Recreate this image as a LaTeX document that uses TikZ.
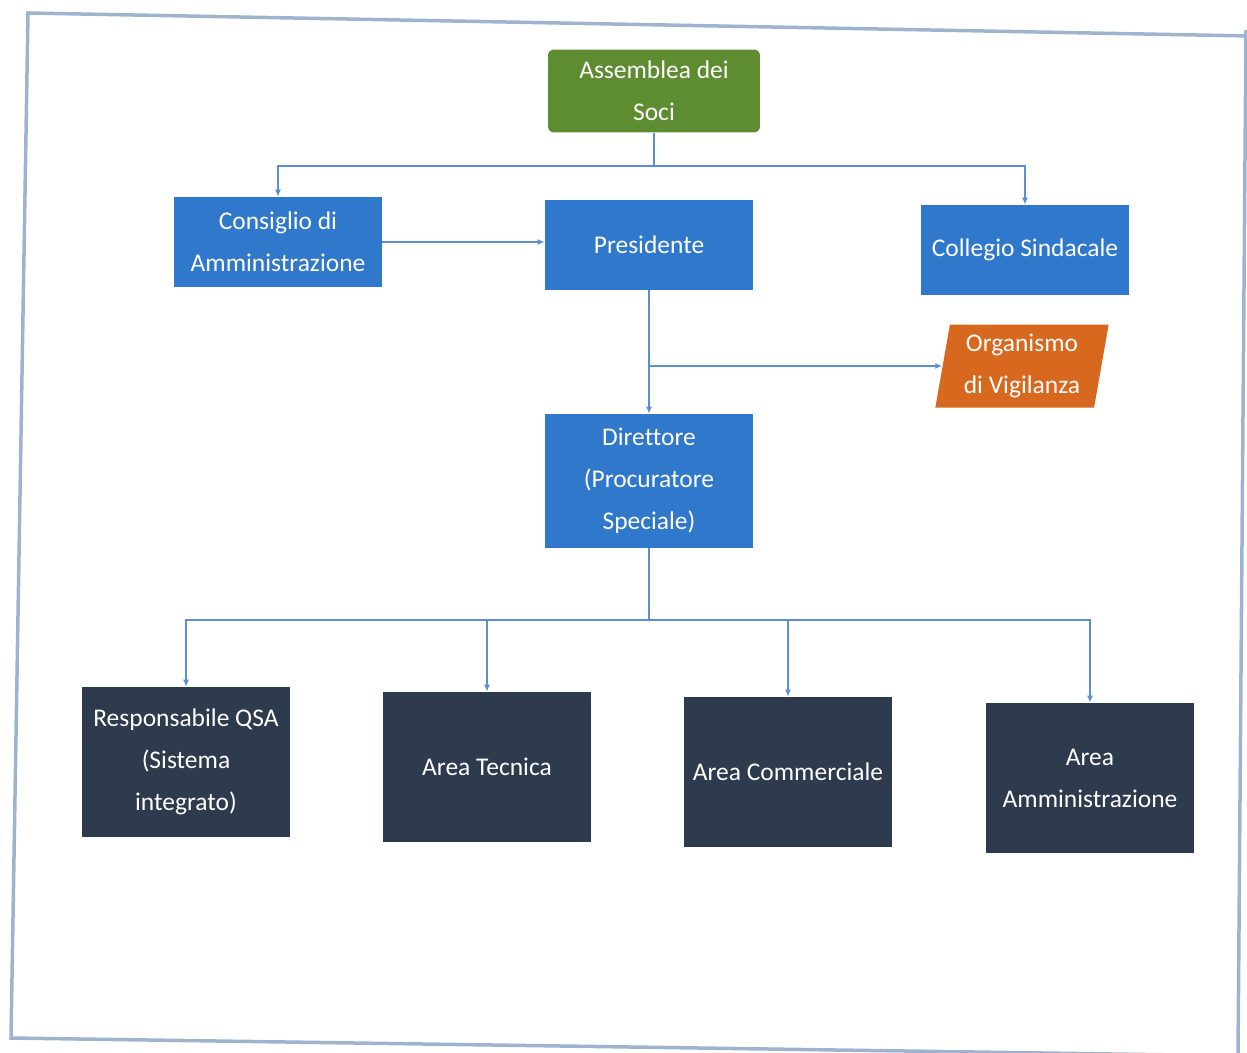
\documentclass[tikz,border=0pt]{standalone}
\usepackage{fontspec}
\setmainfont[Ligatures=NoCommon]{Carlito}
\usetikzlibrary{arrows.meta,shapes.geometric}
\definecolor{boxblue}{HTML}{2F78CC}
\definecolor{boxgreen}{HTML}{5E8C31}
\definecolor{boxorange}{HTML}{D9681F}
\definecolor{boxdark}{HTML}{2E3A4E}
\definecolor{linkblue}{HTML}{5A8FD8}
\definecolor{framegray}{HTML}{9DB3D0}
\tikzset{
  base/.style={draw=none, text=white, align=center, inner sep=2pt,
    font=\fontsize{14.5}{23.8}\selectfont},
  bluebox/.style={base, fill=boxblue, minimum width=4.16cm, minimum height=1.8cm},
  greenbox/.style={base, fill=boxgreen, rounded corners=0.12cm, minimum width=4.24cm, minimum height=1.66cm},
  darkbox/.style={base, fill=boxdark, minimum width=4.16cm, minimum height=3.0cm},
  orangebox/.style={base, fill=boxorange, trapezium, trapezium left angle=80,
    trapezium right angle=100, trapezium stretches=true, minimum width=3.48cm, minimum height=1.66cm},
  link/.style={draw=linkblue, line width=0.035cm},
  arr/.style={link, -{Latex[length=0.14cm,width=0.12cm]}},
  pageframe/.style={draw=framegray, line width=0.07cm}
}
\begin{document}
\begin{tikzpicture}[x=0.02cm, y=-0.02cm]
\useasboundingbox (0,0) rectangle (1247,1052);
% scanned page frame
\draw[pageframe] (1250,36) -- (28,13) -- (11,1038) -- (1250,1056);
\draw[pageframe] (1246,30) -- (1238,1056);

\node[greenbox] (ass) at (654,91) {Assemblea dei\\Soci};
\node[bluebox] (cda) at (278,242) {Consiglio di\\Amministrazione};
\node[bluebox] (pres) at (649,245) {Presidente};
\node[bluebox] (coll) at (1025,250) {Collegio Sindacale};
\node[orangebox] (odv) at (1022,366) {Organismo\\di Vigilanza};
\node[bluebox, minimum height=2.68cm] (dir) at (649,481) {Direttore\\(Procuratore\\Speciale)};

\node[darkbox] (qsa) at (186,762) {Responsabile QSA\\(Sistema\\integrato)};
\node[darkbox] (tec) at (487,767) {Area Tecnica};
\node[darkbox] (com) at (788,772) {Area Commerciale};
\node[darkbox] (amm) at (1090,778) {Area\\Amministrazione};

% top bus
\coordinate (tb) at (654,166);
\draw[link] (ass.south) -- (tb);
\draw[arr] (tb) -| (cda.north);
\draw[arr] (tb) -| (coll.north);

\draw[arr] (cda.east) -- (cda.east -| pres.west);

% presidente to direttore and OdV
\coordinate (pj) at (pres.south |- odv.west);
\draw[arr] (pres.south) -- (dir.north);
\draw[arr] (pj) -- (odv.west);

% bottom bus
\coordinate (bb) at (649,620);
\draw[link] (dir.south) -- (bb);
\draw[arr] (bb) -| (qsa.north);
\draw[arr] (bb) -| (tec.north);
\draw[arr] (bb) -| (com.north);
\draw[arr] (bb) -| (amm.north);
\end{tikzpicture}
\end{document}
